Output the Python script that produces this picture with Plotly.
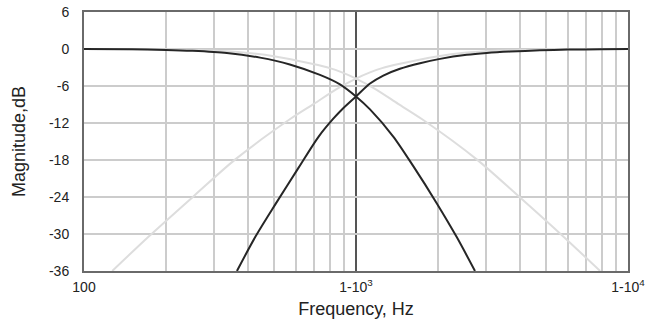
import plotly.graph_objects as go

# ---- data ----
hp_dark_f = [365, 426, 505, 616, 729, 825, 888, 1000, 1126, 1260, 1451, 1719, 2037, 2553, 3024, 3681, 4745, 6000, 7889, 10000]
hp_dark_db = [-36, -30.5, -25.2, -19.2, -14.2, -11.3, -9.8, -7.7, -5.6, -4.3, -3.2, -2.3, -1.6, -0.95, -0.65, -0.42, -0.22, -0.1, -0.04, 0]

lp_dark_f = [100, 150, 200, 250, 335, 444, 571, 737, 870, 1000, 1126, 1371, 1624, 1980, 2346, 2738]
lp_dark_db = [0, -0.05, -0.15, -0.3, -0.65, -1.4, -2.5, -4.2, -5.7, -7.7, -9.8, -14.2, -19.0, -25.0, -30.5, -36]

hp_light_f = [127, 173, 257, 360, 571, 700, 848, 1000, 1126, 1248, 1451, 1980, 2500, 3500, 5000, 10000]
hp_light_db = [-36, -30.4, -23.6, -17.9, -11.4, -8.9, -6.5, -4.8, -3.8, -3.1, -2.4, -1.2, -0.6, -0.25, -0.08, 0]

lp_light_f = [100, 200, 286, 392, 505, 689, 801, 888, 1000, 1179, 1429, 1751, 2778, 3898, 5781, 7900]
lp_light_db = [0, -0.08, -0.25, -0.6, -1.2, -2.4, -3.1, -3.8, -4.8, -6.5, -8.9, -11.4, -17.9, -23.6, -30.4, -36]

x_tickvals = [100, 1000, 10000]
x_ticktext = ["100", "1-10<sup>3</sup>", "1-10<sup>4</sup>"]
x_minor = [200, 300, 400, 500, 600, 700, 800, 900, 2000, 3000, 4000, 5000, 6000, 7000, 8000, 9000]
y_tickvals = [6, 0, -6, -12, -18, -24, -30, -36]

LIGHT = "#dddddd"
DARK = "#262626"

fig = go.Figure()
for f, d, c in [(hp_light_f, hp_light_db, LIGHT), (lp_light_f, lp_light_db, LIGHT),
                (hp_dark_f, hp_dark_db, DARK), (lp_dark_f, lp_dark_db, DARK)]:
    fig.add_trace(go.Scatter(x=f, y=d, mode="lines", line=dict(color=c, width=2, shape="spline", smoothing=0.8),
                             hoverinfo="skip", showlegend=False))

fig.update_layout(
    width=646, height=323,
    margin=dict(l=84, r=18, t=12, b=52),
    paper_bgcolor="white", plot_bgcolor="white",
    font=dict(family="Liberation Sans, Arial, sans-serif", color="#222222", size=14),
    showlegend=False,
)
fig.update_xaxes(
    type="log", range=[2, 4], automargin=False,
    tickvals=x_tickvals, ticktext=x_ticktext, ticklabeloverflow="allow",
    showgrid=True, gridcolor="#555555", gridwidth=1.5,
    minor=dict(tickvals=x_minor, showgrid=True, gridcolor="#cccccc", gridwidth=1.5, ticks=""),
    showline=True, mirror=True, linecolor="#6a6a6a", linewidth=2,
    ticks="", ticklabelstandoff=2,
    title=dict(text="Frequency, Hz", font=dict(size=18), standoff=9),
    zeroline=False,
)
fig.update_yaxes(
    range=[-36, 6], automargin=False,
    tickvals=y_tickvals, ticktext=[str(v) for v in y_tickvals], ticklabeloverflow="allow",
    showgrid=True, gridcolor="#cccccc", gridwidth=1.5,
    showline=True, mirror=True, linecolor="#6a6a6a", linewidth=2,
    ticks="", ticklabelstandoff=10,
    title=dict(text="Magnitude,dB", font=dict(size=18), standoff=19),
    zeroline=False,
)
# remove the browser's default 8px body margin so the figure sits at the page origin
fig.write_html("out.html", config={"displayModeBar": False},
               post_script="document.body.style.margin='0';document.body.style.overflow='hidden';")
